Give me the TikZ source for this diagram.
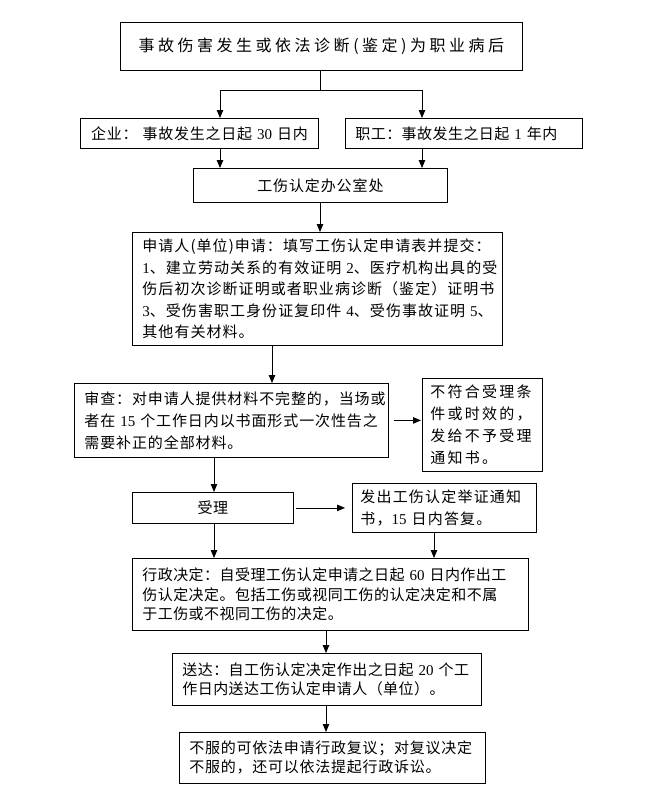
\documentclass[tikz,border=0pt]{standalone}
\usepackage{fontspec}
\usetikzlibrary{arrows.meta}
\newfontfamily\cn{Noto Sans CJK SC}
\newfontfamily\lat{Liberation Serif}
\newcommand\dg[1]{{\lat #1}}
\newcommand\fs[2]{\cn\addfontfeature{LetterSpace=#2}\fontsize{15}{#1}\selectfont}
\tikzset{
  box/.style={draw, line width=0.8pt, inner xsep=10pt, inner ysep=1pt, anchor=north west, align=left, font=\fs{21.5}{3}},
  arr/.style={-{Triangle[length=8pt,width=6.5pt]}, line width=0.8pt},
  ln/.style={line width=0.8pt},
}
\begin{document}
\begin{tikzpicture}[x=1pt,y=-1pt]
\fill[white] (0,0) rectangle (659,796);
\useasboundingbox (0,0) rectangle (659,796);

\node[box, text width=382pt, minimum height=48pt, align=center, font=\cn\addfontfeature{LetterSpace=22}\fontsize{16}{20}\selectfont] (top) at (120,22) {事故伤害发生或依法诊断(鉴定)为职业病后};

\node[box, text width=218pt, minimum height=30pt, align=center, font=\fs{20}{5}] (qy) at (80,118) {企业：~事故发生之日起~\dg{30}~日内};
\node[box, text width=217pt, minimum height=30pt] (zg) at (345,118) {职工：事故发生之日起~\dg{1}~年内};

\node[box, text width=234pt, minimum height=34pt, align=center, font=\fs{20}{6}] (ofc) at (193,168) {工伤认定办公室处};

\node[box, text width=350pt, minimum height=113pt, font=\fs{21.5}{7}] (sq) at (132,232) {申请人(单位)申请：填写工伤认定申请表并提交：\\
\dg{1}、建立劳动关系的有效证明~\dg{2}、医疗机构出具的受\\
伤后初次诊断证明或者职业病诊断（鉴定）证明书\\
\dg{3}、受伤害职工身份证复印件~\dg{4}、受伤事故证明~\dg{5}、\\
其他有关材料。};

\node[box, text width=294pt, minimum height=74pt, font=\fs{22}{6}] (sc) at (74,383) {审查：对申请人提供材料不完整的，当场或\\
者在~\dg{15}~个工作日内以书面形式一次性告之\\
需要补正的全部材料。};

\node[box, inner xsep=8pt, text width=104pt, minimum height=93pt, font=\fs{22}{15}] (bf) at (422,378) {不符合受理条\\件或时效的，\\发给不予受理\\通知书。};

\node[box, text width=141pt, minimum height=31pt, align=center] (sl) at (132,492) {受理};

\node[box, inner xsep=8pt, text width=168pt, minimum height=49pt, font=\fs{22}{8}] (fc) at (352,483) {发出工伤认定举证通知\\书，\dg{15}~日内答复。};

\node[box, text width=376pt, minimum height=72pt, font=\fs{19.5}{3}] (xz) at (132,558) {行政决定：自受理工伤认定申请之日起~\dg{60}~日内作出工\\
伤认定决定。包括工伤或视同工伤的认定决定和不属\\
于工伤或不视同工伤的决定。};

\node[box, text width=289pt, minimum height=52pt, font=\fs{19}{3}] (sd) at (172,653) {送达：自工伤认定决定作出之日起~\dg{20}~个工\\
作日内送达工伤认定申请人（单位）。};

\node[box, text width=286pt, minimum height=51pt, font=\fs{19}{5}] (end) at (179,732) {不服的可依法申请行政复议；对复议决定\\
不服的，还可以依法提起行政诉讼。};

\coordinate (a1) at (220,90);
\coordinate (a2) at (422,90);
\coordinate (a0) at (320,90);
\coordinate (c3) at (272,0);
\coordinate (c4) at (214,0);
\coordinate (c5) at (434,0);
\coordinate (c6) at (326,0);

\draw[ln] (a0 |- top.south) -- (a0);
\draw[ln] (a1) -- (a2);
\draw[arr] (a1) -- (a1 |- qy.north);
\draw[arr] (a2) -- (a2 |- zg.north);
\draw[arr] (a1 |- qy.south) -- (a1 |- ofc.north);
\draw[arr] (a2 |- zg.south) -- (a2 |- ofc.north);
\draw[arr] (a0 |- ofc.south) -- (a0 |- sq.north);
\draw[arr] (c3 |- sq.south) -- (c3 |- sc.north);
\draw[arr, shorten <=5pt, shorten >=1pt] (sc.east) -- (sc.east -| bf.west);
\draw[arr] (c4 |- sc.south) -- (c4 |- sl.north);
\draw[arr, shorten <=2pt, shorten >=7pt] (sl.east) -- (sl.east -| fc.west);
\draw[arr] (c4 |- sl.south) -- (c4 |- xz.north);
\draw[arr] (c5 |- fc.south) -- (c5 |- xz.north);
\draw[arr] (c6 |- xz.south) -- (c6 |- sd.north);
\draw[arr] (c6 |- sd.south) -- (c6 |- end.north);
\end{tikzpicture}
\end{document}
